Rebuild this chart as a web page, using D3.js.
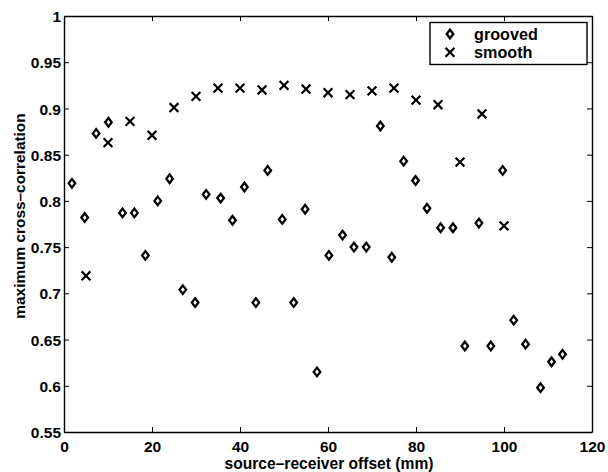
<!DOCTYPE html>
<html>
<head>
<meta charset="utf-8">
<script src="https://cdn.jsdelivr.net/npm/d3@7"></script>
<style>
  body { margin: 0; background: #fff; }
  svg { display: block; }
  svg text { font-family: "Liberation Sans", Arial, sans-serif; font-weight: bold; fill: #000; }
</style>
</head>
<body>
<svg width="608" height="472"></svg>
<script>
// data
var groovedX = [1.8, 4.7, 7.3, 10.1, 13.3, 16.0, 18.5, 21.3, 24.0, 27.0, 29.8, 32.3, 35.6, 38.3, 41.0, 43.6, 46.3, 49.6, 52.2, 54.8, 57.5, 60.2, 63.3, 65.9, 68.7, 71.9, 74.5, 77.2, 79.9, 82.5, 85.6, 88.4, 91.1, 94.3, 97.0, 99.7, 102.2, 104.9, 108.3, 110.8, 113.3];
var groovedY = [0.819, 0.782, 0.873, 0.885, 0.787, 0.787, 0.741, 0.800, 0.824, 0.704, 0.690, 0.807, 0.803, 0.779, 0.815, 0.690, 0.833, 0.780, 0.690, 0.791, 0.615, 0.741, 0.763, 0.750, 0.750, 0.881, 0.739, 0.843, 0.822, 0.792, 0.771, 0.771, 0.643, 0.776, 0.643, 0.833, 0.671, 0.645, 0.598, 0.626, 0.634];
var smoothX = [5, 10, 15, 20, 25, 30, 35, 40, 45, 50, 55, 60, 65, 70, 75, 80, 85, 90, 95, 100];
var smoothY = [0.719, 0.863, 0.886, 0.871, 0.901, 0.913, 0.922, 0.922, 0.920, 0.925, 0.921, 0.917, 0.915, 0.919, 0.922, 0.909, 0.904, 0.842, 0.894, 0.773];
var xTicks = [0, 20, 40, 60, 80, 100, 120];
var yTicks = [0.55, 0.6, 0.65, 0.7, 0.75, 0.8, 0.85, 0.9, 0.95, 1];
var seriesNames = ["grooved", "smooth"];

var mLeft = 64, mRight = 592, mTop = 16, mBottom = 432;

var svg = d3.select("svg");

var x = d3.scaleLinear().domain([0, 120]).range([mLeft, mRight]);
var y = d3.scaleLinear().domain([0.55, 1]).range([mBottom, mTop]);

function diamond(s) {
    s.attr("d", "M0,-4.3L3.3,0L0,4.3L-3.3,0Z")
        .attr("fill", "none").attr("stroke", "#000").attr("stroke-width", 2.3);
}
function cross(s) {
    s.attr("d", "M-4.4,-4.4L4.4,4.4M-4.4,4.4L4.4,-4.4")
        .attr("fill", "none").attr("stroke", "#000").attr("stroke-width", 2.2);
}
var yFmt = function(d) { return String(+d.toFixed(2)); };

// bottom axis
var gx = svg.append("g")
    .attr("transform", "translate(0," + mBottom + ")")
    .call(d3.axisBottom(x).tickValues(xTicks).tickSizeInner(-5).tickSizeOuter(0).tickPadding(10));
// left axis
var gy = svg.append("g")
    .attr("transform", "translate(" + mLeft + ",0)")
    .call(d3.axisLeft(y).tickValues(yTicks).tickFormat(yFmt).tickSizeInner(-5).tickSizeOuter(0).tickPadding(3));
// top and right, ticks only
var gt = svg.append("g")
    .attr("transform", "translate(0," + mTop + ")")
    .call(d3.axisTop(x).tickValues(xTicks).tickFormat("").tickSizeInner(-5).tickSizeOuter(0));
var gr = svg.append("g")
    .attr("transform", "translate(" + mRight + ",0)")
    .call(d3.axisRight(y).tickValues(yTicks).tickFormat("").tickSizeInner(-5).tickSizeOuter(0));

[gx, gy, gt, gr].forEach(function(g) {
    g.attr("font-family", null).attr("font-size", 15.5);
    g.selectAll(".domain").attr("stroke", "#000").attr("stroke-width", 1.4);
    g.selectAll(".tick line").attr("stroke", "#000").attr("stroke-width", 1);
    g.selectAll("text").attr("fill", "#000").attr("font-weight", "bold");
});
gy.selectAll("text").attr("dy", "0.36em");
gx.selectAll("text").attr("dy", "0.62em");

// points
svg.append("g").selectAll("path")
    .data(groovedX.map(function(d, i) { return [d, groovedY[i]]; }))
    .enter().append("path")
    .attr("transform", function(d) { return "translate(" + x(d[0]) + "," + y(d[1]) + ")"; })
    .call(diamond);

svg.append("g").selectAll("path")
    .data(smoothX.map(function(d, i) { return [d, smoothY[i]]; }))
    .enter().append("path")
    .attr("transform", function(d) { return "translate(" + x(d[0]) + "," + y(d[1]) + ")"; })
    .call(cross);

// axis labels
svg.append("text")
    .attr("x", (mLeft + mRight) / 2 + 1)
    .attr("y", 469)
    .attr("text-anchor", "middle")
    .attr("font-size", 15.6)
    .text("source\u2013receiver offset (mm)");

svg.append("text")
    .attr("transform", "translate(25," + 216 + ") rotate(-90)")
    .attr("text-anchor", "middle")
    .attr("font-size", 15.4)
    .text("maximum cross\u2013correlation");

// legend
var legend = svg.append("g");
legend.append("rect")
    .attr("x", 430).attr("y", 22.5)
    .attr("width", 157).attr("height", 42)
    .attr("fill", "#fff").attr("stroke", "#000").attr("stroke-width", 1.4);

var items = legend.selectAll("g.item")
    .data(seriesNames)
    .enter().append("g")
    .attr("class", "item")
    .attr("transform", function(d, i) { return "translate(0," + (34 + i * 18.3) + ")"; });

items.append("path")
    .attr("transform", "translate(450,0)")
    .each(function(d, i) { d3.select(this).call(i === 0 ? diamond : cross); });

items.append("text")
    .attr("x", 474)
    .attr("dy", "0.36em")
    .attr("font-size", 16.2)
    .text(function(d) { return d; });
</script>
</body>
</html>
